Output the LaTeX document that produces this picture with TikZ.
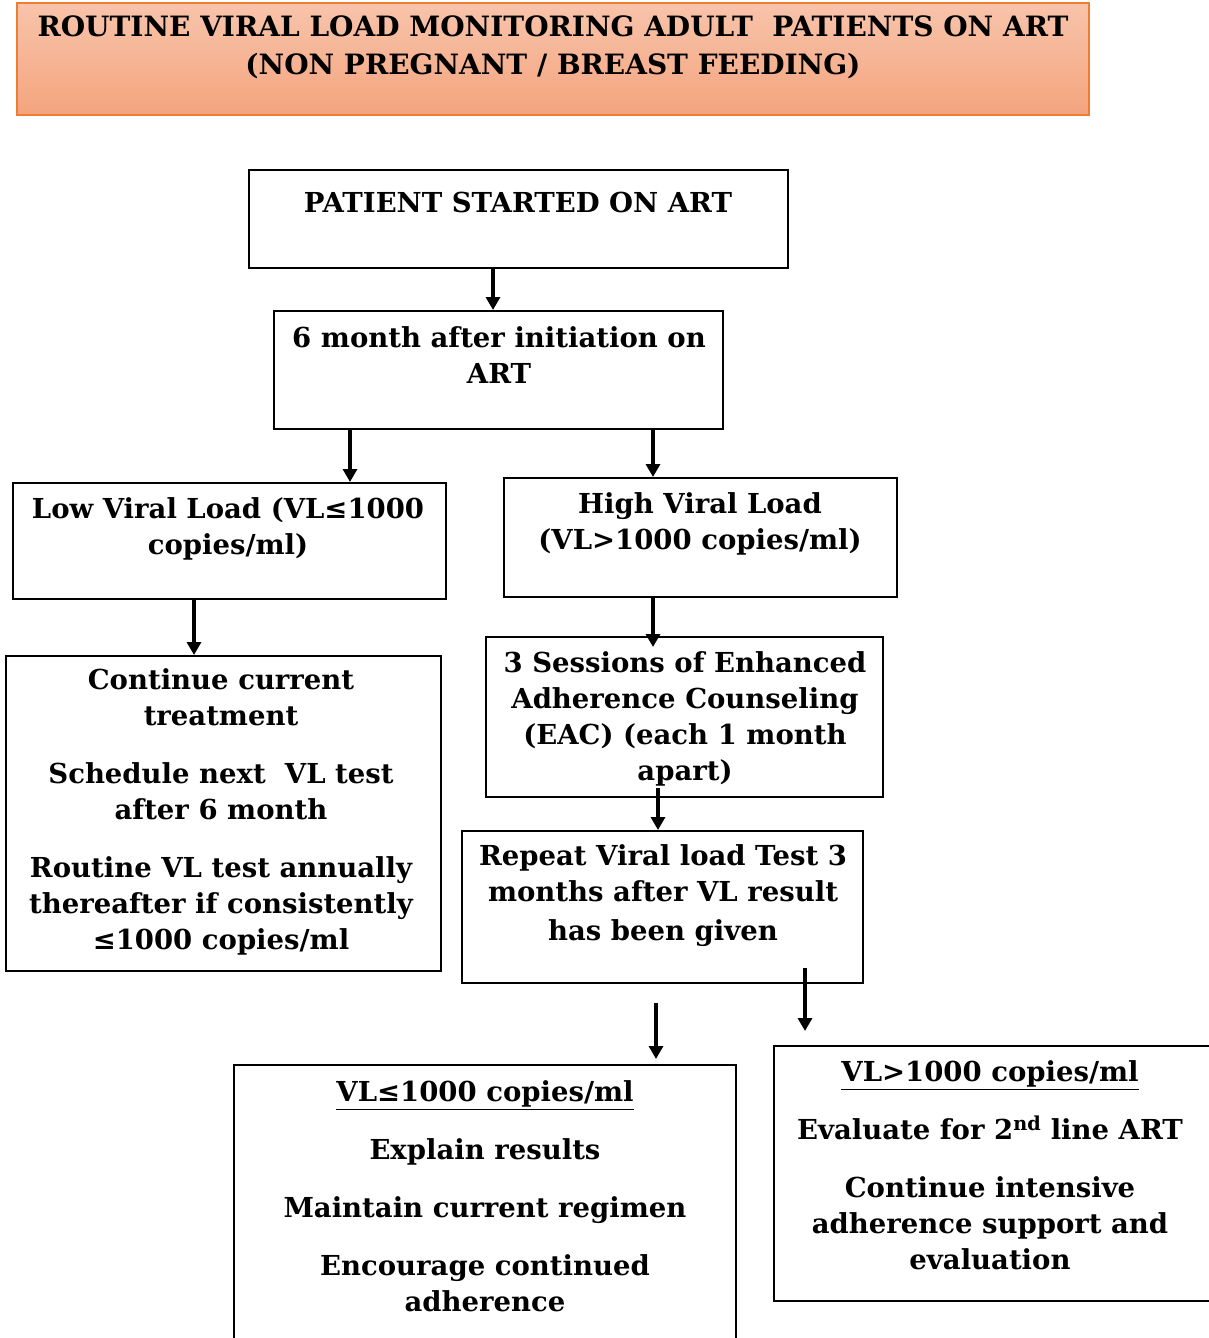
\documentclass[tikz,border=0pt]{standalone}
\usepackage{fontspec}
\setmainfont{DejaVu Serif}
\usetikzlibrary{arrows.meta}
\definecolor{hdrtop}{HTML}{F8C4AB}
\definecolor{hdrbot}{HTML}{F4A47E}
\definecolor{hdredge}{HTML}{ED7D31}
\tikzset{
  box/.style={draw=black, line width=2pt, inner sep=0pt},
  txt/.style={align=center, inner sep=0pt, font=\fontsize{27.5}{36}\selectfont\bfseries},
  hdrtxt/.style={align=center, inner sep=0pt, font=\fontsize{28}{38}\selectfont\bfseries},
  arr/.style={line width=3.5pt, -{Triangle[length=13pt,width=14pt]}},
}
\newcommand{\pgap}{\\[22pt]}
\newcommand{\ul}[1]{\underline{#1}}
\begin{document}
\begin{tikzpicture}[x=1pt,y=-1pt]
\useasboundingbox (0,0) rectangle (1209,1338);

% title banner
\node[box, draw=hdredge, top color=hdrtop, bottom color=hdrbot,
      minimum width=1072pt, minimum height=112pt] (hdr) at (553,59) {};
\node[hdrtxt] (hdrt) at (553,47) {ROUTINE VIRAL LOAD MONITORING ADULT\ \ PATIENTS ON ART\\(NON PREGNANT / BREAST FEEDING)};

% flow boxes
\node[box, minimum width=539pt, minimum height=98pt]  (b1) at (518.5,219) {};
\node[box, minimum width=449pt, minimum height=118pt] (b2) at (498.5,370) {};
\node[box, minimum width=433pt, minimum height=116pt] (b3) at (229.5,541) {};
\node[box, minimum width=393pt, minimum height=119pt] (b4) at (700.5,537.5) {};
\node[box, minimum width=435pt, minimum height=315pt] (b5) at (223.5,813.5) {};
\node[box, minimum width=397pt, minimum height=160pt] (b6) at (684.5,717) {};
\node[box, minimum width=401pt, minimum height=152pt] (b7) at (662.5,907) {};
\node[box, minimum width=502pt, minimum height=285pt] (b8) at (485,1207.5) {};
\node[box, minimum width=441pt, minimum height=255pt] (b9) at (994.5,1173.5) {};

% box texts
\node[txt] (t1) at (518,202) {PATIENT STARTED ON ART};
\node[txt] (t2) at (499,355.5) {6 month after initiation on\\ART};
\node[txt] (t3) at (228,528.5) {Low Viral Load (VL≤1000\\copies/ml)};
\node[txt] (t4) at (700,524) {High Viral Load\\(VL>1000 copies/ml)};
\node[txt] (t5) at (221,812) {Continue current\\treatment\pgap Schedule next\ \ VL test\\after 6 month\pgap Routine VL test annually\\thereafter if consistently\\≤1000 copies/ml};
\node[txt] (t6) at (685,718.5) {3 Sessions of Enhanced\\Adherence Counseling\\(EAC) (each 1 month\\apart)};
\node[txt] (t7) at (663,895.5) {Repeat Viral load Test 3\\months after VL result\\[3pt]has been given};
\node[txt] (t8) at (485,1196.5) {\ul{VL≤1000 copies/ml}\pgap Explain results\pgap Maintain current regimen\pgap Encourage continued\\adherence};
\node[txt] (t9) at (990,1165.5) {\ul{VL>1000 copies/ml}\pgap Evaluate for 2\textsuperscript{nd} line ART\pgap Continue intensive\\adherence support and\\evaluation};

% arrow columns
\coordinate (c1) at (493,0);
\coordinate (c2) at (350,0);
\coordinate (c3) at (653,0);
\coordinate (c4) at (194,0);
\coordinate (c5) at (658,0);
\coordinate (c6) at (656,0);
\coordinate (c7) at (805,0);

% connectors
\draw[arr] (b1.south -| c1) -- (b2.north -| c1);
\draw[arr] (b2.south -| c2) -- (b3.north -| c2);
\draw[arr] ([yshift=2pt]b2.south -| c3) -- (b4.north -| c3);
\draw[arr] (b3.south -| c4) -- (b5.north -| c4);
\draw[arr] (b4.south -| c3) -- ([yshift=-11pt]b6.north -| c3);
\draw[arr] ([yshift=10pt]b6.south -| c5) -- (b7.north -| c5);
\draw[arr] ([yshift=-19pt]b7.south -| c6) -- ([yshift=5pt]b8.north -| c6);
\draw[arr] ([yshift=16pt]b7.south -| c7) -- ([yshift=14pt]b9.north -| c7);
\end{tikzpicture}
\end{document}
